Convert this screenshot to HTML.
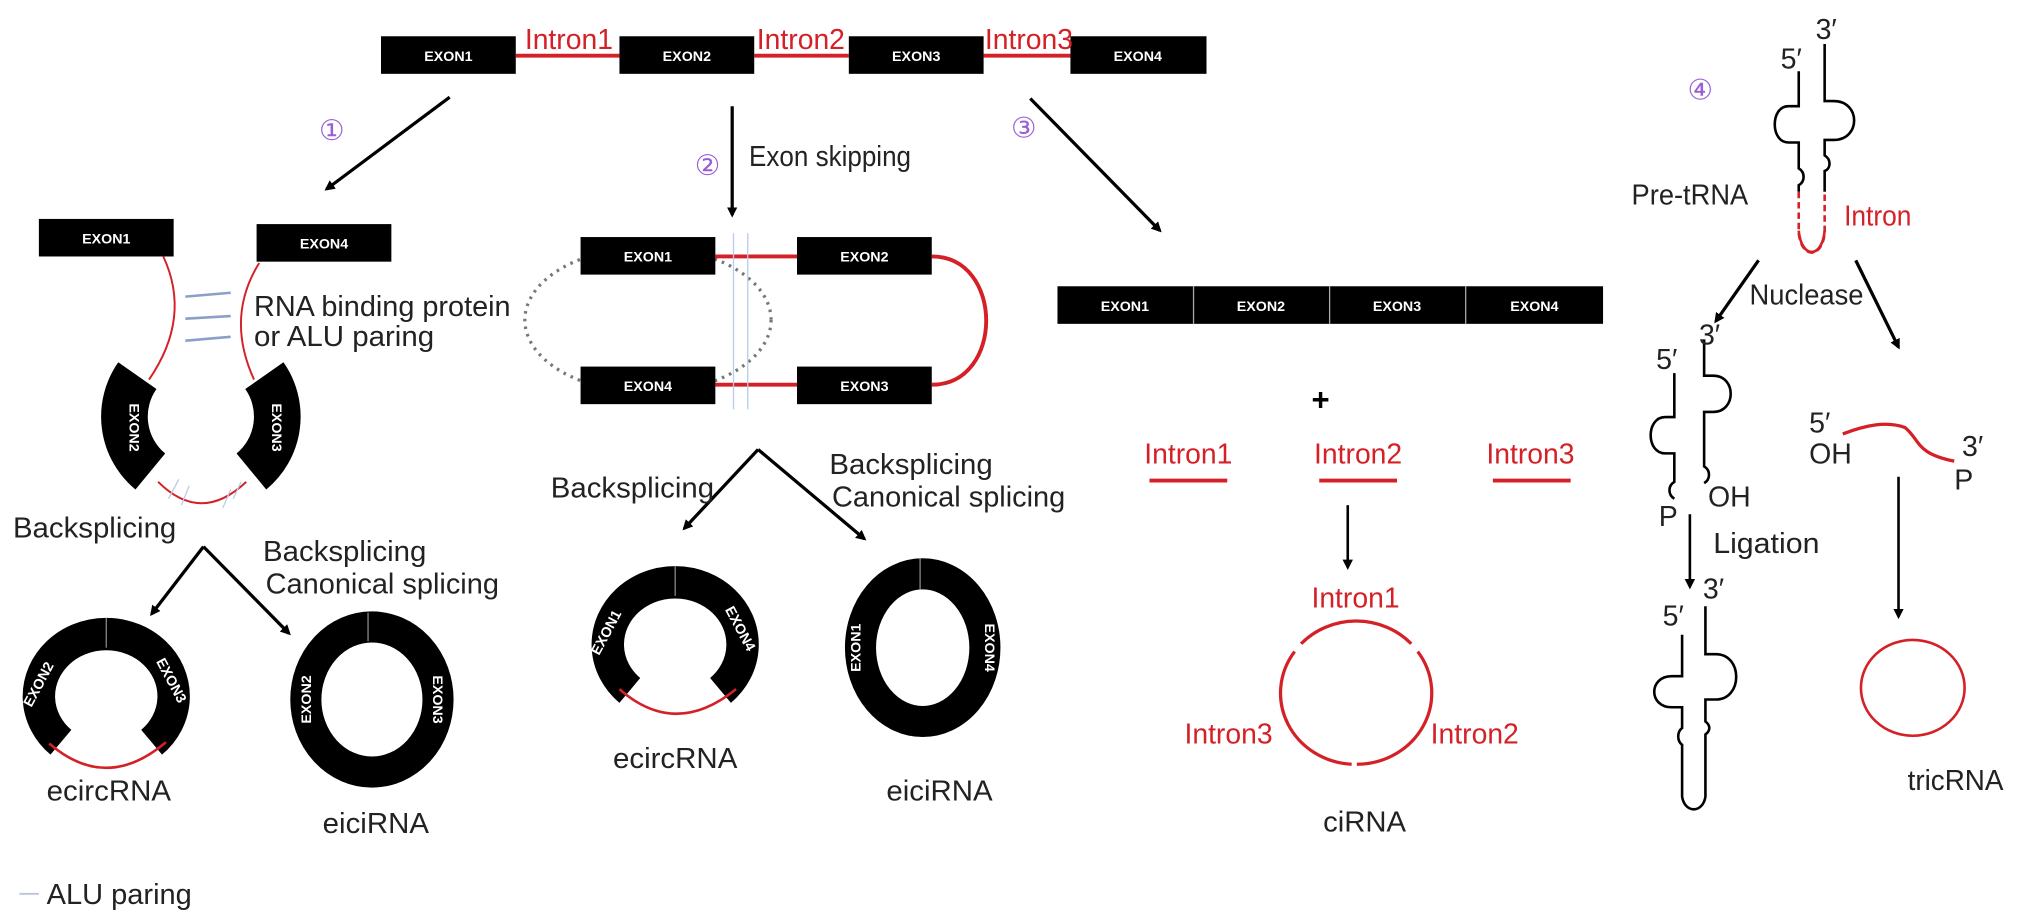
<!DOCTYPE html>
<html><head><meta charset="utf-8"><style>
html,body{margin:0;padding:0;background:#fff;}
svg{display:block;}
text{font-family:"Liberation Sans",sans-serif;}
.ex{fill:#fff;font-weight:bold;font-size:11px;text-anchor:middle;}
.lb{fill:#222;font-size:22px;}
.rd{fill:#d42027;font-size:22px;}
.pu{fill:#9a5fd6;font-size:22px;text-anchor:middle;}
</style></head><body>
<svg width="2032" height="921" viewBox="0 0 1568 711" preserveAspectRatio="none" xmlns="http://www.w3.org/2000/svg">
<defs>
<marker id="ah" markerWidth="8" markerHeight="8" refX="6" refY="4" orient="auto" markerUnits="userSpaceOnUse"><path d="M0,0 L8,4 L0,8 Z" fill="#000"/></marker>
</defs>
<g stroke="#d42027" stroke-width="3"><line x1="398" y1="43" x2="478" y2="43"/><line x1="582" y1="43" x2="655" y2="43"/><line x1="759" y1="43" x2="826" y2="43"/></g>
<rect x="294" y="28" width="104" height="29" fill="#000"/><rect x="478" y="28" width="104" height="29" fill="#000"/><rect x="655" y="28" width="104" height="29" fill="#000"/><rect x="826" y="28" width="105" height="29" fill="#000"/>
<text class="ex" x="346" y="47">EXON1</text><text class="ex" x="530" y="47">EXON2</text><text class="ex" x="707" y="47">EXON3</text><text class="ex" x="878" y="47">EXON4</text>
<text class="rd" x="405" y="38" textLength="68" lengthAdjust="spacingAndGlyphs">Intron1</text><text class="rd" x="584" y="38" textLength="68" lengthAdjust="spacingAndGlyphs">Intron2</text><text class="rd" x="760" y="38" textLength="68" lengthAdjust="spacingAndGlyphs">Intron3</text>
<g stroke="#000" stroke-width="2.5" fill="none" marker-end="url(#ah)">
<line x1="347" y1="75" x2="252" y2="146"/>
<line x1="565" y1="82" x2="565" y2="166"/>
<line x1="795" y1="76" x2="895" y2="178"/>
</g>
<text class="pu" x="256" y="108">①</text><text class="pu" x="546" y="135">②</text><text class="pu" x="790" y="106">③</text><text class="pu" x="1312" y="77">④</text>
<text class="lb" x="578" y="128" textLength="125" lengthAdjust="spacingAndGlyphs">Exon skipping</text>
<!-- panel 1 -->
<rect x="30" y="169" width="104" height="29" fill="#000"/><rect x="198" y="173" width="104" height="29" fill="#000"/>
<text class="ex" x="82" y="188">EXON1</text><text class="ex" x="250" y="192">EXON4</text>
<g stroke="#d42027" stroke-width="1.5" fill="none"><path d="M126,198 Q148,245 115,293"/><path d="M200,203 Q174,245 196,293"/><path d="M122,372 Q155,405 190,372"/></g>
<g stroke="#8aa0c8" stroke-width="2"><line x1="143" y1="229" x2="178" y2="226"/><line x1="143" y1="246" x2="178" y2="244"/><line x1="143" y1="263" x2="178" y2="260"/></g>
<g stroke="#b8cce8" stroke-width="1"><line x1="130" y1="385" x2="138" y2="370"/><line x1="140" y1="390" x2="146" y2="375"/><line x1="172" y1="392" x2="178" y2="378"/><line x1="180" y1="385" x2="186" y2="372"/></g>
<g fill="none" stroke="#000" stroke-width="36">
<path d="M110,290 A55,55 0 0 0 120,364" transform="translate(-4,0)"/>
<path d="M200,290 A55,55 0 0 1 190,364" transform="translate(4,0)"/>
</g>
<text class="ex" transform="translate(100,330) rotate(90)">EXON2</text>
<text class="ex" transform="translate(210,330) rotate(90)">EXON3</text>
<text class="lb" x="196" y="244" textLength="198" lengthAdjust="spacingAndGlyphs">RNA binding protein</text>
<text class="lb" x="196" y="267" textLength="139" lengthAdjust="spacingAndGlyphs">or ALU paring</text>
<g stroke="#000" stroke-width="2.5" fill="none" marker-end="url(#ah)"><line x1="157" y1="422" x2="117" y2="474"/><line x1="157" y1="422" x2="223" y2="489"/></g>
<text class="lb" x="10" y="415" textLength="126" lengthAdjust="spacingAndGlyphs">Backsplicing</text>
<text class="lb" x="203" y="433" textLength="126" lengthAdjust="spacingAndGlyphs">Backsplicing</text>
<text class="lb" x="205" y="458" textLength="180" lengthAdjust="spacingAndGlyphs">Canonical splicing</text>
<path d="M47,573 A52,48 0 1 1 117,573" fill="none" stroke="#000" stroke-width="25"/>
<line x1="82" y1="477" x2="82" y2="500" stroke="#888" stroke-width="1"/>
<path d="M38,574 Q82,612 128,573" fill="none" stroke="#d42027" stroke-width="2"/>
<text class="ex" transform="translate(33,530) rotate(-62)" font-size="10">EXON2</text>
<text class="ex" transform="translate(129,527) rotate(62)" font-size="10">EXON3</text>
<text class="lb" x="84" y="618" text-anchor="middle" textLength="96" lengthAdjust="spacingAndGlyphs">ecircRNA</text>
<ellipse cx="287" cy="540" rx="51" ry="56" fill="none" stroke="#000" stroke-width="24"/>
<line x1="284" y1="473" x2="284" y2="495" stroke="#888" stroke-width="1"/>
<text class="ex" transform="translate(240,540) rotate(-90)" font-size="10">EXON2</text>
<text class="ex" transform="translate(334,540) rotate(90)" font-size="10">EXON3</text>
<text class="lb" x="290" y="643" text-anchor="middle" textLength="82" lengthAdjust="spacingAndGlyphs">eiciRNA</text>
<line x1="15" y1="690" x2="30" y2="690" stroke="#b8c4dc" stroke-width="1.5"/>
<text class="lb" x="36" y="698" textLength="112" lengthAdjust="spacingAndGlyphs">ALU paring</text>
<!-- panel 2 -->
<ellipse cx="500" cy="247" rx="95" ry="56" fill="none" stroke="#777" stroke-width="2.5" stroke-dasharray="2,4"/>
<g stroke="#d42027" stroke-width="3" fill="none"><line x1="552" y1="198" x2="615" y2="198"/><line x1="552" y1="297" x2="615" y2="297"/><path d="M719,198 C775,198 775,297 719,297"/></g>
<rect x="448" y="183" width="104" height="29" fill="#000"/><rect x="615" y="183" width="104" height="29" fill="#000"/><rect x="448" y="283" width="104" height="29" fill="#000"/><rect x="615" y="283" width="104" height="29" fill="#000"/>
<text class="ex" x="500" y="202">EXON1</text><text class="ex" x="667" y="202">EXON2</text><text class="ex" x="500" y="302">EXON4</text><text class="ex" x="667" y="302">EXON3</text>
<g stroke="#b8cce8" stroke-width="1"><line x1="566" y1="180" x2="566" y2="316"/><line x1="577" y1="180" x2="577" y2="316"/></g>
<g stroke="#000" stroke-width="2.5" fill="none" marker-end="url(#ah)"><line x1="585" y1="347" x2="528" y2="408"/><line x1="585" y1="347" x2="667" y2="416"/></g>
<text class="lb" x="425" y="384" textLength="126" lengthAdjust="spacingAndGlyphs">Backsplicing</text>
<text class="lb" x="640" y="366" textLength="126" lengthAdjust="spacingAndGlyphs">Backsplicing</text>
<text class="lb" x="642" y="391" textLength="180" lengthAdjust="spacingAndGlyphs">Canonical splicing</text>
<path d="M486,533 A52,48 0 1 1 556,533" fill="none" stroke="#000" stroke-width="25"/>
<line x1="521" y1="437" x2="521" y2="460" stroke="#888" stroke-width="1"/>
<path d="M478,532 Q521,570 568,532" fill="none" stroke="#d42027" stroke-width="2"/>
<text class="ex" transform="translate(471,490) rotate(-62)" font-size="10">EXON1</text>
<text class="ex" transform="translate(568,487) rotate(62)" font-size="10">EXON4</text>
<text class="lb" x="521" y="593" text-anchor="middle" textLength="96" lengthAdjust="spacingAndGlyphs">ecircRNA</text>
<ellipse cx="712" cy="500" rx="48" ry="57" fill="none" stroke="#000" stroke-width="24"/>
<line x1="710" y1="431" x2="710" y2="455" stroke="#888" stroke-width="1"/>
<text class="ex" transform="translate(664,500) rotate(-90)" font-size="10">EXON1</text>
<text class="ex" transform="translate(760,500) rotate(90)" font-size="10">EXON4</text>
<text class="lb" x="725" y="618" text-anchor="middle" textLength="82" lengthAdjust="spacingAndGlyphs">eiciRNA</text>
<!-- panel 3 -->
<rect x="816" y="221" width="421" height="29" fill="#000"/>
<g stroke="#aaa" stroke-width="1"><line x1="921" y1="221" x2="921" y2="250"/><line x1="1026" y1="221" x2="1026" y2="250"/><line x1="1131" y1="221" x2="1131" y2="250"/></g>
<text class="ex" x="868" y="240">EXON1</text><text class="ex" x="973" y="240">EXON2</text><text class="ex" x="1078" y="240">EXON3</text><text class="ex" x="1184" y="240">EXON4</text>
<text x="1019" y="317" font-size="24" font-weight="bold" text-anchor="middle" fill="#000">+</text>
<text class="rd" x="917" y="358" text-anchor="middle" textLength="68" lengthAdjust="spacingAndGlyphs">Intron1</text>
<text class="rd" x="1048" y="358" text-anchor="middle" textLength="68" lengthAdjust="spacingAndGlyphs">Intron2</text>
<text class="rd" x="1181" y="358" text-anchor="middle" textLength="68" lengthAdjust="spacingAndGlyphs">Intron3</text>
<g stroke="#d42027" stroke-width="3"><line x1="887" y1="371" x2="947" y2="371"/><line x1="1018" y1="371" x2="1078" y2="371"/><line x1="1152" y1="371" x2="1212" y2="371"/></g>
<line x1="1040" y1="390" x2="1040" y2="438" stroke="#000" stroke-width="2" marker-end="url(#ah)"/>
<g fill="none" stroke="#d42027" stroke-width="2.5">
<path d="M1004,497 A58,55 0 0 1 1089,497"/>
<path d="M1094,503 A58,55 0 0 1 1047,590"/>
<path d="M1043,590 A58,55 0 0 1 999,503"/>
</g>
<text class="rd" x="1046" y="469" text-anchor="middle" textLength="68" lengthAdjust="spacingAndGlyphs">Intron1</text>
<text class="rd" x="914" y="574" textLength="68" lengthAdjust="spacingAndGlyphs">Intron3</text>
<text class="rd" x="1104" y="574" textLength="68" lengthAdjust="spacingAndGlyphs">Intron2</text>
<text class="lb" x="1053" y="642" text-anchor="middle" textLength="64" lengthAdjust="spacingAndGlyphs">ciRNA</text>
<!-- panel 4 -->
<g fill="none" stroke="#000" stroke-width="2">
<path d="M1388,55 V82 H1380 C1366,82 1366,110 1380,110 H1388 V130 C1393,133 1393,140 1388,143 V148"/>
<path d="M1408,34 V78 H1415 C1436,78 1436,108 1415,108 H1408 V120 C1413,123 1413,130 1408,132 V148"/>
</g>
<path d="M1388,148 V180 C1390,200 1406,200 1408,180 V148" fill="none" stroke="#d42027" stroke-width="2" stroke-dasharray="5,3"/>
<path d="M1388,178 C1390,200 1406,200 1408,178" fill="none" stroke="#d42027" stroke-width="2"/>
<text class="lb" x="1374" y="53" font-size="20">5′</text><text class="lb" x="1401" y="30" font-size="20">3′</text>
<text class="lb" x="1259" y="158" textLength="90" lengthAdjust="spacingAndGlyphs">Pre-tRNA</text>
<text class="rd" x="1423" y="174" textLength="52" lengthAdjust="spacingAndGlyphs">Intron</text>
<g stroke="#000" stroke-width="2.5" fill="none" marker-end="url(#ah)"><line x1="1357" y1="201" x2="1324" y2="248"/><line x1="1432" y1="201" x2="1465" y2="268"/></g>
<text class="lb" x="1350" y="235" textLength="88" lengthAdjust="spacingAndGlyphs">Nuclease</text>
<g fill="none" stroke="#000" stroke-width="2">
<path d="M1292,288 V322 H1285 C1270,322 1270,350 1285,350 H1292 V372 C1287,375 1287,382 1292,385"/>
<path d="M1315,262 V290 H1322 C1340,290 1340,318 1322,318 H1315 V360 C1320,363 1320,370 1315,373"/>
</g>
<text class="lb" x="1311" y="266" font-size="20">3′</text><text class="lb" x="1278" y="285" font-size="20">5′</text>
<text class="lb" x="1318" y="391" font-size="20">OH</text><text class="lb" x="1280" y="406" font-size="20">P</text>
<line x1="1304" y1="397" x2="1304" y2="453" stroke="#000" stroke-width="2" marker-end="url(#ah)"/>
<text class="lb" x="1322" y="427" textLength="82" lengthAdjust="spacingAndGlyphs">Ligation</text>
<g fill="none" stroke="#000" stroke-width="2">
<path d="M1298,490 V522 H1290 C1272,522 1272,546 1290,546 H1298 V562 C1294,565 1294,572 1298,575 V615 C1300,628 1314,628 1316,615 V567 C1320,564 1320,560 1316,557 V540 H1324 C1345,540 1345,505 1324,505 H1316 V468"/>
</g>
<text class="lb" x="1314" y="462" font-size="20">3′</text><text class="lb" x="1283" y="483" font-size="20">5′</text>
<path d="M1422,335 C1440,328 1456,325 1470,330 C1482,340 1478,350 1508,356" fill="none" stroke="#d42027" stroke-width="2.5"/>
<text class="lb" x="1396" y="334" font-size="20">5′</text><text class="lb" x="1396" y="358" font-size="20">OH</text>
<text class="lb" x="1514" y="352" font-size="20">3′</text><text class="lb" x="1508" y="378" font-size="20">P</text>
<line x1="1465" y1="368" x2="1465" y2="476" stroke="#000" stroke-width="2" marker-end="url(#ah)"/>
<ellipse cx="1476" cy="531" rx="40" ry="37" fill="none" stroke="#d42027" stroke-width="2"/>
<text class="lb" x="1509" y="610" text-anchor="middle" textLength="74" lengthAdjust="spacingAndGlyphs">tricRNA</text>
</svg>
</body></html>
